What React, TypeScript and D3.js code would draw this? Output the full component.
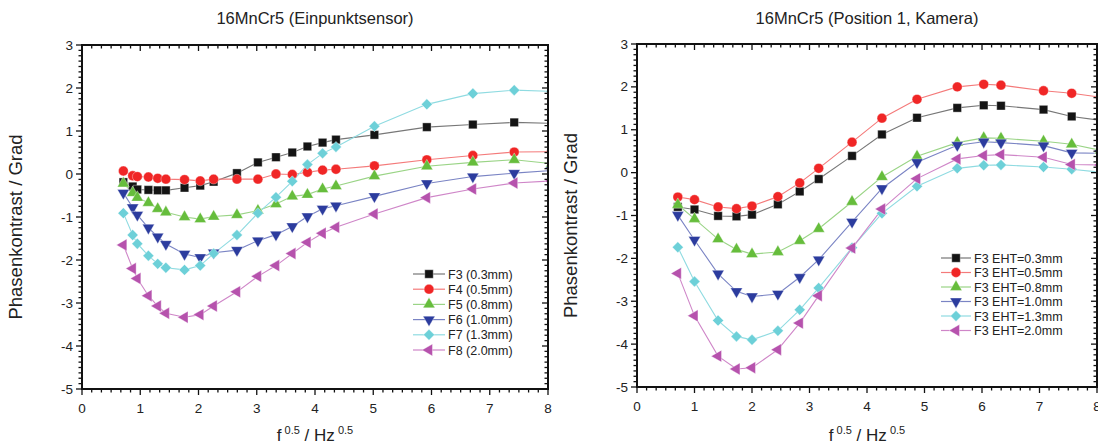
import React from 'react';
import * as d3 from 'd3';

// x = sqrt(f) values of the measured frequencies
const leftX = [0.71, 0.87, 0.95, 1.14, 1.30, 1.44, 1.76, 2.03, 2.26, 2.66, 3.02, 3.33, 3.61, 3.87, 4.13, 4.36, 5.02, 5.92, 6.71, 7.42, 8.06];
const rightX = [0.71, 1.0, 1.41, 1.73, 2.0, 2.45, 2.83, 3.16, 3.74, 4.26, 4.87, 5.57, 6.03, 6.33, 7.07, 7.56, 8.06];

const leftLabels = ['F3 (0.3mm)', 'F4 (0.5mm)', 'F5 (0.8mm)', 'F6 (1.0mm)', 'F7 (1.3mm)', 'F8 (2.0mm)'];
const rightLabels = ['F3 EHT=0.3mm', 'F3 EHT=0.5mm', 'F3 EHT=0.8mm', 'F3 EHT=1.0mm', 'F3 EHT=1.3mm', 'F3 EHT=2.0mm'];

const leftF3 = [-0.19, -0.29, -0.36, -0.37, -0.38, -0.38, -0.32, -0.27, -0.18, 0.02, 0.27, 0.39, 0.50, 0.64, 0.73, 0.80, 0.91, 1.09, 1.15, 1.20, 1.18];
const leftF4 = [0.07, -0.04, -0.06, -0.07, -0.10, -0.12, -0.13, -0.16, -0.12, -0.12, -0.12, 0.00, -0.01, 0.04, 0.09, 0.11, 0.19, 0.33, 0.43, 0.51, 0.52];
const leftF5 = [-0.22, -0.44, -0.55, -0.67, -0.81, -0.89, -1.00, -1.05, -0.99, -0.95, -0.85, -0.70, -0.52, -0.48, -0.35, -0.28, -0.05, 0.18, 0.27, 0.33, 0.24];
const leftF6 = [-0.44, -0.78, -0.95, -1.25, -1.46, -1.63, -1.86, -1.94, -1.83, -1.77, -1.55, -1.41, -1.22, -0.99, -0.81, -0.74, -0.52, -0.22, -0.06, 0.02, 0.08];
const leftF7 = [-0.91, -1.42, -1.62, -1.90, -2.09, -2.18, -2.23, -2.13, -1.85, -1.42, -0.91, -0.54, -0.17, 0.22, 0.48, 0.63, 1.11, 1.62, 1.87, 1.95, 1.92];
const leftF8 = [-1.65, -2.20, -2.43, -2.83, -3.07, -3.24, -3.33, -3.27, -3.07, -2.74, -2.38, -2.13, -1.85, -1.59, -1.38, -1.24, -0.93, -0.55, -0.35, -0.21, -0.16];

const rightE03 = [-0.80, -0.86, -1.01, -1.02, -0.98, -0.74, -0.44, -0.15, 0.39, 0.89, 1.28, 1.51, 1.57, 1.56, 1.47, 1.31, 1.22];
const rightE05 = [-0.57, -0.63, -0.80, -0.84, -0.78, -0.56, -0.24, 0.10, 0.71, 1.27, 1.71, 2.00, 2.06, 2.04, 1.91, 1.85, 1.76];
const rightE08 = [-0.75, -1.08, -1.55, -1.79, -1.90, -1.85, -1.59, -1.31, -0.68, -0.10, 0.38, 0.70, 0.81, 0.80, 0.73, 0.66, 0.52];
const rightE10 = [-0.99, -1.57, -2.36, -2.77, -2.89, -2.83, -2.44, -2.03, -1.15, -0.37, 0.24, 0.64, 0.72, 0.70, 0.63, 0.46, 0.45];
const rightE13 = [-1.74, -2.54, -3.45, -3.82, -3.90, -3.69, -3.20, -2.69, -1.75, -0.95, -0.32, 0.10, 0.17, 0.18, 0.13, 0.08, 0.01];
const rightE20 = [-2.35, -3.34, -4.28, -4.58, -4.55, -4.13, -3.51, -2.87, -1.76, -0.85, -0.14, 0.32, 0.40, 0.42, 0.36, 0.19, 0.18];

const colors = ['#141414', '#f02626', '#66bd3c', '#2c3c9e', '#6dd0d8', '#b652ad'];
const lineColors = ['#777777', '#f47a7a', '#9ad486', '#7a84c4', '#8fdbe1', '#cf86c8'];
const shapes = ['square', 'circle', 'up', 'down', 'diamond', 'left'];

const FONT = '"Liberation Sans", Arial, sans-serif';

function markerPath(shape) {
  if (shape === 'square') return d3.symbol(d3.symbolSquare, 72)();
  if (shape === 'circle') return d3.symbol(d3.symbolCircle, 76)();
  if (shape === 'diamond') return d3.symbol(d3.symbolSquare, 60)();
  return d3.symbol(d3.symbolTriangle, 62)();
}
function markerRotate(shape) {
  if (shape === 'diamond') return 45;
  if (shape === 'down') return 180;
  if (shape === 'left') return -90;
  return 0;
}

function Marker({ shape, x, y, color }) {
  return (
    <path
      d={markerPath(shape)}
      transform={`translate(${x},${y}) rotate(${markerRotate(shape)})`}
      fill={color}
      stroke="#ffffff"
      strokeOpacity={0.45}
      strokeWidth={0.8}
    />
  );
}

function Panel({ id, title, xs, series, labels, box, legend }) {
  const x = d3.scaleLinear().domain([0, 8]).range([box.left, box.right]);
  const y = d3.scaleLinear().domain([-5, 3]).range([box.bottom, box.top]);
  const line = d3.line().x(d => x(d[0])).y(d => y(d[1]));
  const cx = (box.left + box.right) / 2;
  const cy = (box.top + box.bottom) / 2;

  const xMajor = d3.range(0, 9, 1);
  const xMinor = d3.range(0, 8.001, 1 / 6).filter(v => Math.abs(v - Math.round(v)) > 0.01);
  const yMajor = d3.range(-5, 4, 1);
  const yMinor = d3.range(-5, 3.001, 0.125).filter(v => Math.abs(v - Math.round(v)) > 0.01);

  return (
    <g>
      <defs>
        <clipPath id={`clip-${id}`}>
          <rect x={box.left} y={box.top} width={box.right - box.left} height={box.bottom - box.top} />
        </clipPath>
      </defs>
      <text x={cx} y={24} textAnchor="middle" fontSize={16.5} fontFamily={FONT} fill="#222">{title}</text>

      {/* data */}
      <g clipPath={`url(#clip-${id})`}>
        {series.map((s, i) => (
          <path key={'l' + i} d={line(xs.map((v, k) => [v, s[k]]))} fill="none" stroke={lineColors[i]} strokeWidth={1.1} />
        ))}
        {series.map((s, i) =>
          xs.map((v, k) => <Marker key={`m${i}-${k}`} shape={shapes[i]} x={x(v)} y={y(s[k])} color={colors[i]} />)
        )}
      </g>

      {/* ticks */}
      <g stroke="#111" strokeWidth={1.3}>
        {xMajor.map(v => (
          <g key={'xM' + v}>
            <line x1={x(v)} x2={x(v)} y1={box.bottom} y2={box.bottom + 6} />
            <line x1={x(v)} x2={x(v)} y1={box.top} y2={box.top + 6} />
          </g>
        ))}
        {xMinor.map(v => (
          <g key={'xm' + v}>
            <line x1={x(v)} x2={x(v)} y1={box.bottom} y2={box.bottom + 3.5} />
            <line x1={x(v)} x2={x(v)} y1={box.top} y2={box.top + 3.5} />
          </g>
        ))}
        {yMajor.map(v => (
          <g key={'yM' + v}>
            <line x1={box.left - 6} x2={box.left} y1={y(v)} y2={y(v)} />
            <line x1={box.right - 6} x2={box.right} y1={y(v)} y2={y(v)} />
          </g>
        ))}
        {yMinor.map(v => (
          <g key={'ym' + v}>
            <line x1={box.left - 3.5} x2={box.left} y1={y(v)} y2={y(v)} />
            <line x1={box.right - 3.5} x2={box.right} y1={y(v)} y2={y(v)} />
          </g>
        ))}
      </g>
      <rect x={box.left} y={box.top} width={box.right - box.left} height={box.bottom - box.top} fill="none" stroke="#111" strokeWidth={2} />

      {/* tick labels */}
      {xMajor.map(v => (
        <text key={'xt' + v} x={x(v)} y={box.bottom + 24} textAnchor="middle" fontSize={13.5} fontFamily={FONT} fill="#222">{v}</text>
      ))}
      {yMajor.map(v => (
        <text key={'yt' + v} x={box.left - 9} y={y(v) + 4.5} textAnchor="end" fontSize={13.5} fontFamily={FONT} fill="#222">{v}</text>
      ))}

      {/* axis titles */}
      <text x={cx} y={441} textAnchor="middle" fontSize={17} fontFamily={FONT} fill="#222">
        f<tspan fontSize={11} dy={-7}> 0.5</tspan><tspan dy={7}> / Hz</tspan><tspan fontSize={11} dy={-7}> 0.5</tspan>
      </text>
      <text transform={`translate(${box.left - 60},${cy + 10}) rotate(-90)`} textAnchor="middle" fontSize={18.5} fontFamily={FONT} fill="#222">
        Phasenkontrast / Grad
      </text>

      {/* legend */}
      {labels.map((lab, i) => {
        const ly = legend.top + i * legend.step;
        return (
          <g key={'lg' + i}>
            <line x1={legend.x} x2={legend.x + legend.len} y1={ly} y2={ly} stroke={lineColors[i]} strokeWidth={1.2} />
            <Marker shape={shapes[i]} x={legend.x + legend.len / 2} y={ly} color={colors[i]} />
            <text x={legend.x + legend.len + 3} y={ly + 4.5} fontSize={12.5} fontFamily={FONT} fill="#222">{lab}</text>
          </g>
        );
      })}
    </g>
  );
}

export default function App() {
  return (
    <div style={{ position: 'absolute', left: 0, top: 0, width: 1098, height: 446, background: '#fff' }}>
      <svg width={1098} height={446} style={{ display: 'block' }}>
        <Panel
          id="left"
          title="16MnCr5 (Einpunktsensor)"
          xs={leftX}
          series={[leftF3, leftF4, leftF5, leftF6, leftF7, leftF8]}
          labels={leftLabels}
          box={{ left: 82, right: 548, top: 45, bottom: 389 }}
          legend={{ x: 413, len: 32, top: 274, step: 15.2 }}
        />
        <Panel
          id="right"
          title="16MnCr5 (Position 1, Kamera)"
          xs={rightX}
          series={[rightE03, rightE05, rightE08, rightE10, rightE13, rightE20]}
          labels={rightLabels}
          box={{ left: 637, right: 1097, top: 44, bottom: 387 }}
          legend={{ x: 941, len: 30, top: 258, step: 14.5 }}
        />
      </svg>
    </div>
  );
}
